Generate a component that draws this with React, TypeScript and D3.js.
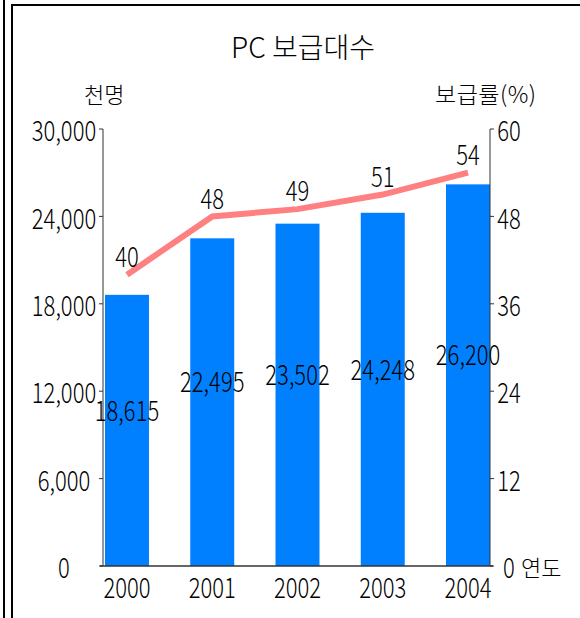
import React from 'react';
import * as d3 from 'd3';

const years = ['2000', '2001', '2002', '2003', '2004'];
const pcCounts = [18615, 22495, 23502, 24248, 26200];
const rates = [40, 48, 49, 51, 54];
const leftTicks = [0, 6000, 12000, 18000, 24000, 30000];
const rightTicks = [0, 12, 24, 36, 48, 60];

const W = 580;
const H = 618;
const KR_FONT = '"Noto Sans CJK KR", "Noto Sans", sans-serif';

function Num({ x, y, anchor = 'middle', size = 22, children }: any) {
  return (
    <text
      transform={`translate(${x},${y}) scale(1,1.28)`}
      textAnchor={anchor}
      dominantBaseline="central"
      fontFamily={KR_FONT}
      fontWeight={300}
      fontSize={size}
      fill="#000"
    >
      {children}
    </text>
  );
}

export default function App() {
  const x = d3.scaleBand<string>().domain(years).range([105, 490]).paddingInner(0.484).paddingOuter(0);
  const y0 = 566;
  const yTop = 129;
  const yL = d3.scaleLinear().domain([0, 30000]).range([y0, yTop]);
  const yR = d3.scaleLinear().domain([0, 60]).range([y0, yTop]);
  const bw = x.bandwidth();
  const cx = (d: string) => (x(d) as number) + bw / 2;
  const fmt = d3.format(',');

  const line = d3
    .line<number>()
    .x((_, i) => cx(years[i]))
    .y((d) => yR(d));

  const axL = 103;
  const axR = 490;

  return (
    <svg
      width={W}
      height={H}
      viewBox={`0 0 ${W} ${H}`}
      style={{ position: 'absolute', left: 0, top: 0, background: '#fff' }}
    >
      <rect x={0} y={0} width={W} height={H} fill="#fff" />
      {/* frame */}
      <line x1={4} y1={0} x2={4} y2={H} stroke="#000" strokeWidth={2} />
      <line x1={12} y1={5} x2={12} y2={H} stroke="#000" strokeWidth={2} />
      <line x1={11} y1={5} x2={W} y2={5} stroke="#000" strokeWidth={2} />

      {/* title */}
      <text x={303} y={58} textAnchor="middle" fontFamily={KR_FONT} fontWeight={300} fontSize={28} fill="#000">
        PC 보급대수
      </text>
      <text x={84} y={103} fontFamily={KR_FONT} fontWeight={300} fontSize={22} fill="#000">
        천명
      </text>
      <text x={435} y={103} fontFamily={KR_FONT} fontWeight={300} fontSize={23} letterSpacing={0.5} fill="#000">
        보급률(%)
      </text>

      {/* bars */}
      {years.map((yr, i) => (
        <rect
          key={yr}
          x={x(yr)}
          y={yL(pcCounts[i])}
          width={bw}
          height={y0 - yL(pcCounts[i])}
          fill="#0080FF"
        />
      ))}

      {/* axes */}
      <line x1={axL} y1={yTop} x2={axL} y2={y0} stroke="#333" strokeWidth={1} />
      <line x1={axR} y1={yTop} x2={axR} y2={y0} stroke="#333" strokeWidth={1} />
      <line x1={100} y1={y0} x2={493} y2={y0} stroke="#333" strokeWidth={1.5} />
      {leftTicks.map((t) => (
        <g key={'l' + t}>
          <line x1={axL - 4} y1={yL(t)} x2={axL} y2={yL(t)} stroke="#333" />
          <Num x={64} y={yL(t)}>{fmt(t)}</Num>
        </g>
      ))}
      {rightTicks.map((t) => (
        <g key={'r' + t}>
          <line x1={axR} y1={yR(t)} x2={axR + 4} y2={yR(t)} stroke="#333" />
          <Num x={509} y={yR(t)}>{t}</Num>
        </g>
      ))}
      <text x={521} y={y0} dominantBaseline="central" fontFamily={KR_FONT} fontWeight={300} fontSize={22} fill="#000">
        연도
      </text>
      {years.map((yr) => (
        <Num key={'x' + yr} x={cx(yr)} y={586}>
          {yr}
        </Num>
      ))}

      {/* line */}
      <path d={line(rates) as string} fill="none" stroke="#FF8080" strokeWidth={6} />

      {/* labels */}
      {years.map((yr, i) => (
        <Num key={'v' + yr} x={cx(yr)} y={(yL(pcCounts[i]) + y0) / 2 - 22}>
          {fmt(pcCounts[i])}
        </Num>
      ))}
      {years.map((yr, i) => (
        <Num key={'p' + yr} x={cx(yr)} y={yR(rates[i]) - 20}>
          {rates[i]}
        </Num>
      ))}
    </svg>
  );
}
